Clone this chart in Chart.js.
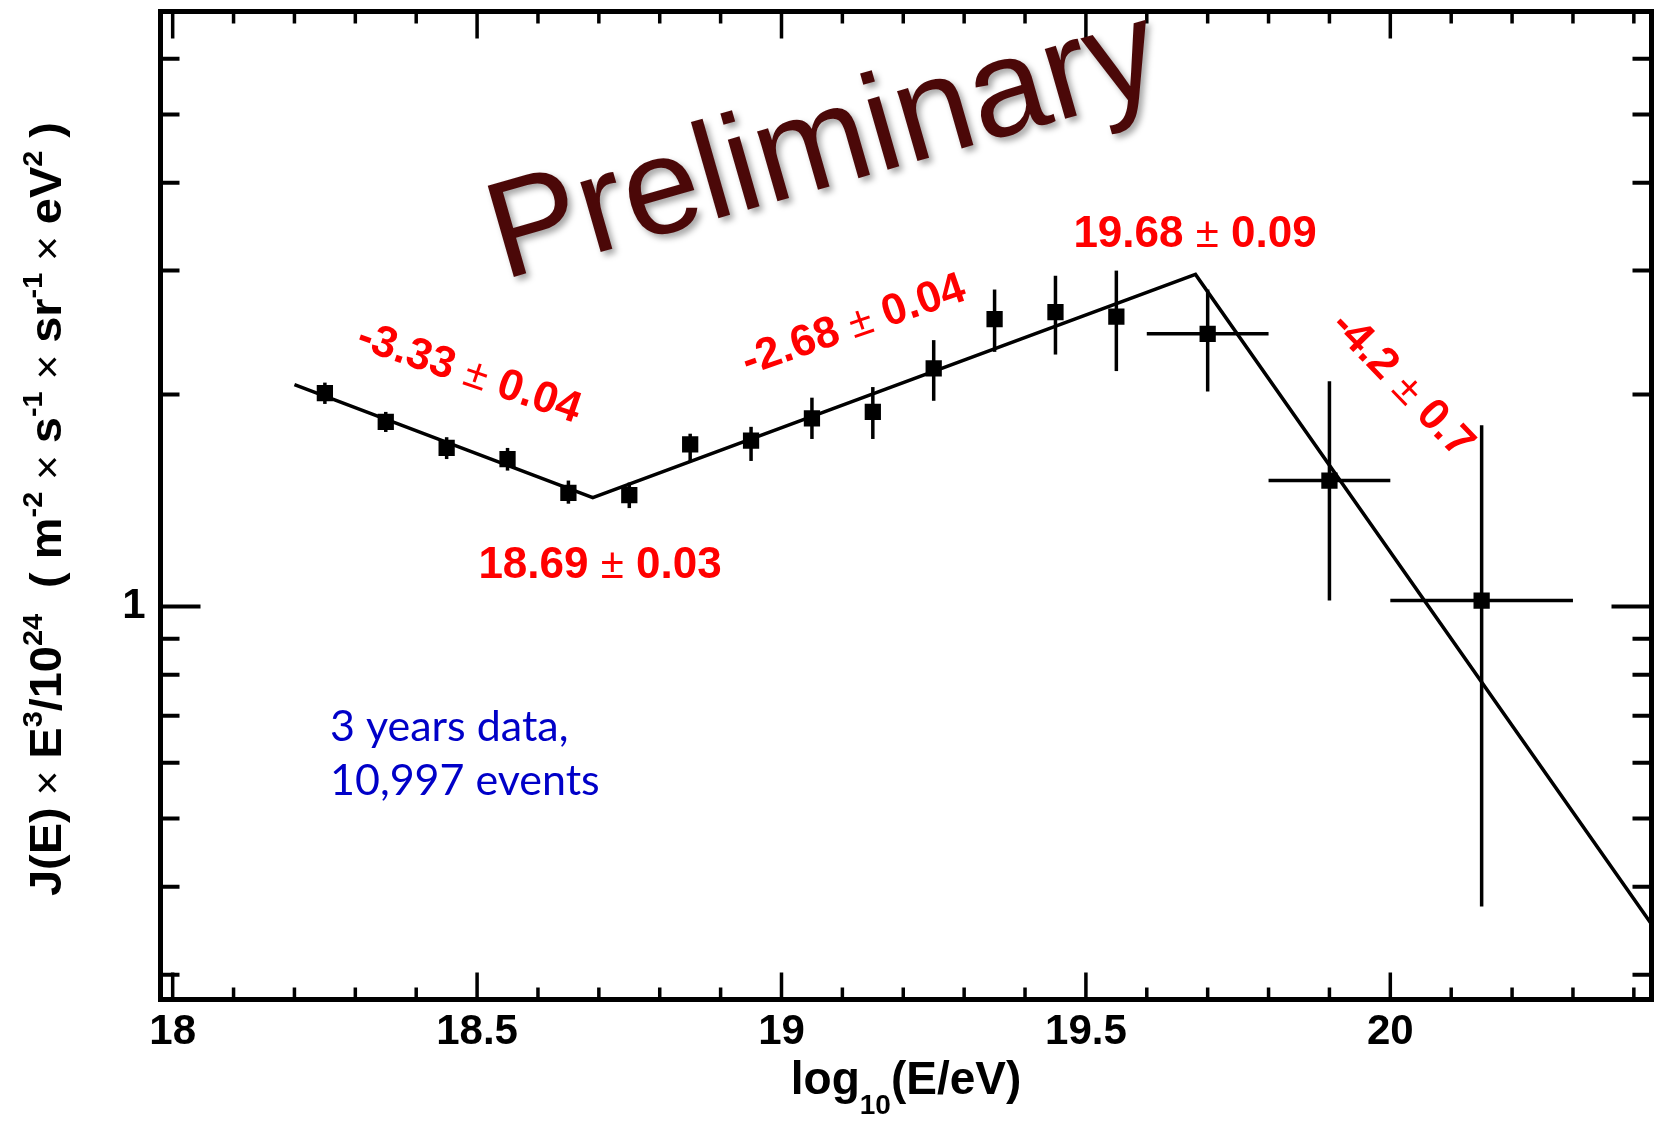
<!DOCTYPE html>
<html>
<head>
<meta charset="utf-8">
<script src="https://cdn.jsdelivr.net/npm/chart.js@4.4.0/dist/chart.umd.min.js"></script>
<style>
  html, body { margin: 0; padding: 0; background: #fff; }
  #chartcontainer { width: 1663px; height: 1121px; }
</style>
</head>
<body>
<div id="chartcontainer"><canvas id="spectrum" width="1663" height="1121"></canvas></div>
<script>
// energy bins, log10(E/eV)
const logE = [18.25, 18.35, 18.45, 18.55, 18.65, 18.75, 18.85, 18.95, 19.05, 19.15, 19.25, 19.35, 19.45, 19.55, 19.70, 19.90, 20.15];
// J(E) x E^3 / 10^24
const flux   = [2.01, 1.83, 1.68, 1.62, 1.45, 1.44, 1.70, 1.72, 1.85, 1.89, 2.18, 2.56, 2.62, 2.58, 2.44, 1.51, 1.02];
const fluxLo = [1.94, 1.77, 1.62, 1.56, 1.40, 1.38, 1.61, 1.61, 1.73, 1.73, 1.96, 2.30, 2.28, 2.16, 2.02, 1.02, 0.375];
const fluxHi = [2.08, 1.89, 1.74, 1.68, 1.51, 1.50, 1.76, 1.80, 1.98, 2.05, 2.39, 2.82, 2.95, 3.00, 2.82, 2.09, 1.81];
// horizontal bin widths, only for the last three bins
const logELo = [null, null, null, null, null, null, null, null, null, null, null, null, null, null, 19.60, 19.80, 20.00];
const logEHi = [null, null, null, null, null, null, null, null, null, null, null, null, null, null, 19.80, 20.00, 20.30];

// broken power law fit
const fitLogE = [18.20, 18.69, 19.68, 20.43];
const fitFlux = [2.067, 1.428, 2.963, 0.353];

// axes
const xTicks = [18, 18.1, 18.2, 18.3, 18.4, 18.5, 18.6, 18.7, 18.8, 18.9, 19, 19.1, 19.2, 19.3, 19.4, 19.5, 19.6, 19.7, 19.8, 19.9, 20, 20.1, 20.2, 20.3, 20.4];
const xLabels = [18, 18.5, 19, 19.5, 20];
const yTicks = [0.3, 0.4, 0.5, 0.6, 0.7, 0.8, 0.9, 1, 2, 3, 4, 5, 6, 7];
const yLabels = [1];

const isIn = (arr, v) => arr.some(a => Math.abs(a - v) < 1e-6);

const FONT = '"Liberation Sans", Arial, sans-serif';
const B = 'bold 44px ' + FONT;
const N = '42px ' + FONT;

function richText(ctx, parts, x, y, align) {
    let w = 0;
    parts.forEach(p => { ctx.font = p.font; p.w = ctx.measureText(p.t).width; w += p.w; });
    let cx = align === 'center' ? x - w / 2 : x;
    parts.forEach(p => { ctx.font = p.font; ctx.fillText(p.t, cx, y + (p.dy || 0)); cx += p.w; });
    return w;
}

const pm = (a, b) => [{t: a + ' ', font: B}, {t: '\u00b1', font: N}, {t: ' ' + b, font: B}];

// frame with inward ticks on all four sides
const framePlugin = {
    id: 'frame',
    afterDraw(chart) {
        const {ctx, chartArea: a, scales: {x, y}} = chart;
        ctx.save();
        ctx.strokeStyle = '#000';
        ctx.lineCap = 'butt';
        ctx.lineWidth = 3.5;
        x.ticks.forEach(t => {
            const px = x.getPixelForValue(t.value);
            const len = isIn(xLabels, t.value) ? 27 : 12;
            ctx.beginPath();
            ctx.moveTo(px, a.bottom); ctx.lineTo(px, a.bottom - len);
            ctx.moveTo(px, a.top); ctx.lineTo(px, a.top + len);
            ctx.stroke();
        });
        ctx.lineWidth = 4;
        y.ticks.forEach(t => {
            const py = y.getPixelForValue(t.value);
            const len = isIn(yLabels, t.value) ? 40 : 19;
            ctx.beginPath();
            ctx.moveTo(a.left, py); ctx.lineTo(a.left + len, py);
            ctx.moveTo(a.right, py); ctx.lineTo(a.right - len, py);
            ctx.stroke();
        });
        ctx.lineWidth = 5;
        ctx.strokeRect(a.left, a.top, a.right - a.left, a.bottom - a.top);
        ctx.restore();
    }
};

const errorBarPlugin = {
    id: 'errorbars',
    afterDatasetsDraw(chart) {
        const {ctx, scales: {x, y}} = chart;
        ctx.save();
        ctx.strokeStyle = '#000';
        ctx.lineWidth = 3.5;
        logE.forEach((e, i) => {
            const px = x.getPixelForValue(e);
            const py = y.getPixelForValue(flux[i]);
            ctx.beginPath();
            ctx.moveTo(px, y.getPixelForValue(fluxLo[i]));
            ctx.lineTo(px, y.getPixelForValue(fluxHi[i]));
            if (logELo[i] !== null) {
                ctx.moveTo(x.getPixelForValue(logELo[i]), py);
                ctx.lineTo(x.getPixelForValue(logEHi[i]), py);
            }
            ctx.stroke();
        });
        ctx.restore();
    }
};

const textPlugin = {
    id: 'texts',
    afterDraw(chart) {
        const {ctx, chartArea: a} = chart;
        ctx.save();
        ctx.textBaseline = 'alphabetic';
        ctx.textAlign = 'left';

        // red fit annotations
        ctx.fillStyle = '#ff0000';
        richText(ctx, pm('19.68', '0.09'), 1195, 247, 'center');
        richText(ctx, pm('18.69', '0.03'), 600, 578, 'center');
        const rotated = [
            [pm('-3.33', '0.04'), 470, 371, 19],
            [pm('-2.68', '0.04'), 853, 323, -19],
            [pm('-4.2', '0.7'), 1404, 383, 46]
        ];
        rotated.forEach(([parts, cx, cy, deg]) => {
            ctx.save();
            ctx.translate(cx, cy);
            ctx.rotate(deg * Math.PI / 180);
            richText(ctx, parts, 0, 15, 'center');
            ctx.restore();
        });

        // blue note
        ctx.fillStyle = '#0000c8';
        ctx.font = '43px Lato, "Open Sans", sans-serif';
        ctx.fillText('3 years data,', 330, 741);
        ctx.fillText('10,997 events', 330, 795);

        // x axis title
        ctx.fillStyle = '#000';
        const cx = (a.left + a.right) / 2;
        richText(ctx, [
            {t: 'log', font: 'bold 46px ' + FONT},
            {t: '10', font: 'bold 28px ' + FONT, dy: 20},
            {t: '(E/eV)', font: 'bold 46px ' + FONT}
        ], cx, 1094, 'center');

        // y axis title
        const yb = 'bold 44px ' + FONT, ys = 'bold 27px ' + FONT, yx = '40px ' + FONT;
        const up = -19;
        const yParts = [
            {t: 'J(E)', font: yb}, {t: ' \u00d7 ', font: yx}, {t: 'E', font: yb}, {t: '3', font: ys, dy: up},
            {t: '/10', font: yb}, {t: '24', font: ys, dy: up}, {t: '  ( m', font: yb}, {t: '-2', font: ys, dy: up},
            {t: ' \u00d7 ', font: yx}, {t: 's', font: yb}, {t: '-1', font: ys, dy: up},
            {t: ' \u00d7 ', font: yx}, {t: 'sr', font: yb}, {t: '-1', font: ys, dy: up},
            {t: ' \u00d7 ', font: yx}, {t: 'eV', font: yb}, {t: '2', font: ys, dy: up}, {t: ' )', font: yb}
        ];
        let tw = 0;
        yParts.forEach(p => { ctx.font = p.font; tw += ctx.measureText(p.t).width; });
        ctx.save();
        ctx.translate(61, 509);
        ctx.rotate(-Math.PI / 2);
        ctx.scale(774 / tw, 1);
        richText(ctx, yParts, 0, 0, 'center');
        ctx.restore();

        // Preliminary watermark
        ctx.save();
        ctx.translate(503, 280);
        ctx.rotate(-16 * Math.PI / 180);
        ctx.shadowColor = 'rgba(0,0,0,0.35)';
        ctx.shadowBlur = 6;
        ctx.shadowOffsetX = 4;
        ctx.shadowOffsetY = 4;
        ctx.fillStyle = '#4b0808';
        ctx.font = '138px ' + FONT;
        ctx.fillText('Preliminary', 0, 0);
        ctx.restore();

        ctx.restore();
    }
};

const ctx = document.getElementById('spectrum').getContext('2d');
const chart = new Chart(ctx, {
    type: 'scatter',
    data: {
        datasets: [
            {
                type: 'line',
                label: 'fit',
                data: fitLogE.map((e, i) => ({x: e, y: fitFlux[i]})),
                borderColor: '#000',
                borderWidth: 3.5,
                pointRadius: 0,
                tension: 0,
                fill: false,
                order: 2
            },
            {
                label: 'TA SD',
                data: logE.map((e, i) => ({x: e, y: flux[i]})),
                pointStyle: 'rect',
                pointRadius: 11.5,
                backgroundColor: '#000',
                borderColor: '#000',
                borderWidth: 0,
                order: 1
            }
        ]
    },
    options: {
        responsive: false,
        animation: false,
        devicePixelRatio: 1,
        layout: {padding: {top: 9.5, right: 11, left: 0, bottom: 0}},
        plugins: {legend: {display: false}, tooltip: {enabled: false}},
        scales: {
            x: {
                type: 'linear',
                min: 17.98,
                max: 20.429,
                grid: {display: false, drawTicks: false},
                border: {display: false},
                afterBuildTicks: s => { s.ticks = xTicks.map(v => ({value: v})); },
                afterFit: s => { s.height = 121.5; },
                ticks: {
                    autoSkip: false,
                    maxRotation: 0,
                    padding: 8,
                    color: '#000',
                    font: {family: FONT, size: 42, weight: 'bold'},
                    callback: v => isIn(xLabels, v) ? String(v) : ''
                }
            },
            y: {
                type: 'logarithmic',
                min: 0.2767,
                max: 7.0,
                grid: {display: false, drawTicks: false},
                border: {display: false},
                afterBuildTicks: s => { s.ticks = yTicks.map(v => ({value: v})); },
                afterFit: s => { s.width = 160.5; s.paddingTop = 0; s.paddingBottom = 0; },
                ticks: {
                    autoSkip: false,
                    padding: 15,
                    color: '#000',
                    font: {family: FONT, size: 42, weight: 'bold'},
                    callback: v => isIn(yLabels, v) ? String(v) : ''
                }
            }
        }
    },
    plugins: [errorBarPlugin, framePlugin, textPlugin]
});
</script>
</body>
</html>
